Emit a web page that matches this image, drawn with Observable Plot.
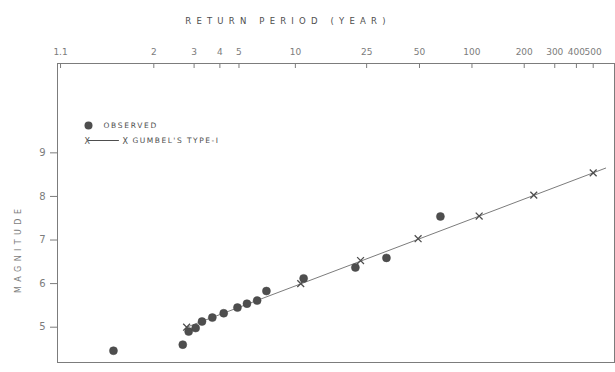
<!DOCTYPE html>
<html><head><meta charset="utf-8">
<script src="https://cdn.jsdelivr.net/npm/d3@7"></script>
<script src="https://cdn.jsdelivr.net/npm/@observablehq/plot@0.6"></script>
<style>
html,body{margin:0;padding:0;background:#fff;}
</style></head><body><div id="chart"></div>
<script>
// Top axis: return period (years) on Gumbel probability paper
const returnPeriodTicks = [1.1, 2, 3, 4, 5, 10, 25, 50, 100, 200, 300, 400, 500];
const returnPeriodLabels = ["1.1", "2", "3", "4", "5", "10", "25", "50", "100", "200", "300", "400", "500"];
const magnitudeTicks = [5, 6, 7, 8, 9];
// Observed annual maxima (return period, magnitude)
const observedT = [1.44, 2.66, 2.83, 3.05, 3.27, 3.67, 4.18, 4.91, 5.50, 6.22, 6.97, 11.1, 21.6, 32.4, 65.9];
const observedMag = [4.46, 4.60, 4.90, 4.98, 5.13, 5.22, 5.32, 5.45, 5.54, 5.61, 5.83, 6.12, 6.37, 6.59, 7.54];
// Gumbel type-I fit (crosses)
const gumbelT = [2.77, 10.7, 23.1, 49.1, 110, 227, 500];
const gumbelMag = [5.00, 6.00, 6.53, 7.03, 7.55, 8.03, 8.54];
// Gumbel fitted line ends
const gumbelLineT = [2.77, 590];
const gumbelLineMag = [5.00, 8.65];

const gumbel = T => -Math.log(-Math.log(1 - 1 / T));
const observed = observedT.map((T, i) => ({T, m: observedMag[i]}));
const crosses = gumbelT.map((T, i) => ({T, m: gumbelMag[i]}));
const fitLine = gumbelLineT.map((T, i) => ({T, m: gumbelLineMag[i]}));
const tickVals = returnPeriodTicks.map(gumbel);
const labelOf = new Map(tickVals.map((v, i) => [v, returnPeriodLabels[i]]));

const ink = "#4e4e4e";
const light = "#7c7c7c";
const seg = {draw(ctx, l) { ctx.moveTo(0, 0); ctx.lineTo(0, -l); }};

const chart = Plot.plot({
  width: 615,
  height: 372,
  marginLeft: 57,
  marginRight: 1,
  marginTop: 63,
  marginBottom: 10,
  style: {fontFamily: "DejaVu Sans, sans-serif", fontSize: "9px", background: "#fff"},
  x: {domain: [-0.915, 6.497], axis: null},
  y: {domain: [4.19, 11.05], axis: null},
  marks: [
    Plot.frame({stroke: light, strokeWidth: 1}),
    Plot.axisY(magnitudeTicks, {anchor: "left", label: null, tickSize: 7, tickPadding: 5, color: light, fontSize: 10}),
    Plot.axisX(tickVals, {anchor: "top", label: null, tickSize: -4, text: null, color: light}),
    Plot.axisX(tickVals, {anchor: "top", label: null, tickSize: 0, tickPadding: 9, color: light, fontSize: 9, tickFormat: d => labelOf.get(d)}),
    Plot.line(fitLine, {x: d => gumbel(d.T), y: "m", stroke: light, strokeWidth: 1}),
    Plot.dot(crosses, {x: d => gumbel(d.T), y: "m", symbol: "times", r: 3.2, stroke: ink, strokeWidth: 1.3}),
    Plot.dot(observed, {x: d => gumbel(d.T), y: "m", r: 4, fill: ink, stroke: "#444", strokeWidth: 0.5}),
    // titles
    Plot.text(["RETURN PERIOD (YEAR)"], {frameAnchor: "top", dx: -48, dy: -46, fill: ink, fontSize: 8.5}),
    Plot.text(["MAGNITUDE"], {frameAnchor: "left", rotate: -90, dx: -39, dy: 80, fill: light, fontSize: 8}),
    // legend
    Plot.dot([0], {frameAnchor: "top-left", dx: 31, dy: 62, r: 4, fill: ink}),
    Plot.text(["OBSERVED"], {frameAnchor: "top-left", dx: 46, dy: 59.5, textAnchor: "start", fill: ink, fontSize: 7.5}),
    Plot.text(["X"], {frameAnchor: "top-left", dx: 27, dy: 74.5, fill: ink, fontSize: 8}),
    Plot.vector([0], {frameAnchor: "top-left", dx: 31, dy: 77, length: 30, rotate: 90, anchor: "start", shape: seg, stroke: ink, strokeWidth: 1}),
    Plot.text(["X"], {frameAnchor: "top-left", dx: 65, dy: 74.5, fill: ink, fontSize: 8}),
    Plot.text(["GUMBEL'S TYPE-I"], {frameAnchor: "top-left", dx: 75, dy: 74.5, textAnchor: "start", fill: ink, fontSize: 7.5})
  ]
});

const spacing = {"RETURN PERIOD (YEAR)": 5.2, "MAGNITUDE": 4.4, "OBSERVED": 1.7, "GUMBEL'S TYPE-I": 1.5};
d3.select(chart).selectAll("text")
  .filter(function () { return spacing[this.textContent] !== undefined; })
  .attr("letter-spacing", function () { return spacing[this.textContent]; });

document.getElementById("chart").appendChild(chart);
</script></body></html>
